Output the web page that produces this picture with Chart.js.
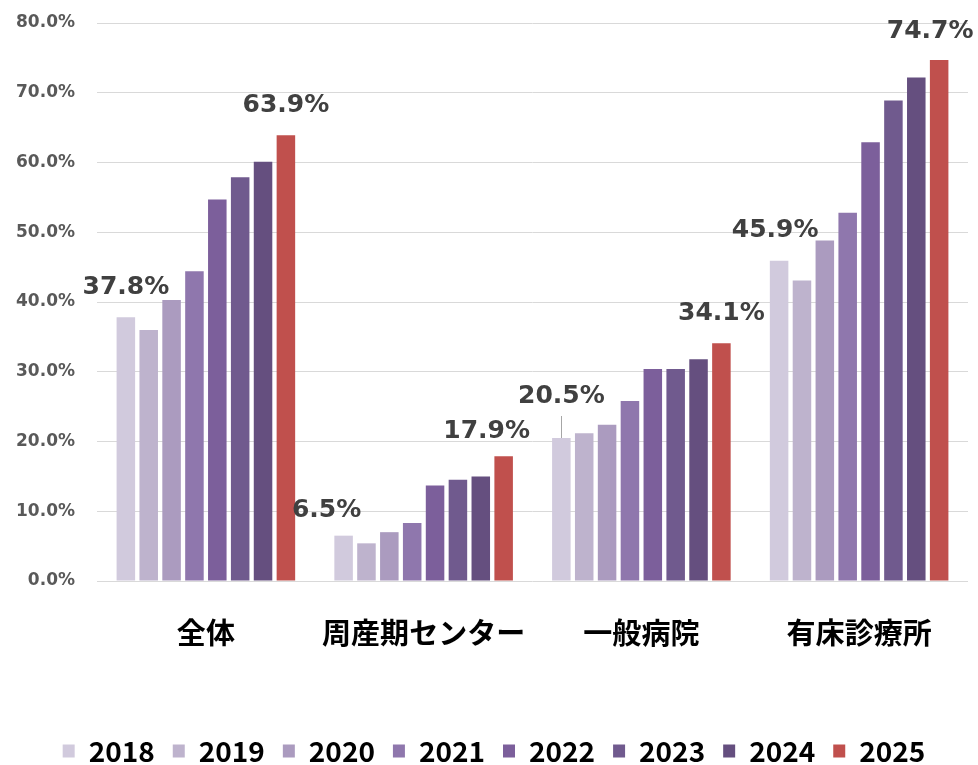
<!DOCTYPE html>
<html>
<head>
<meta charset="utf-8">
<script src="https://cdn.jsdelivr.net/npm/chart.js@4/dist/chart.umd.min.js"></script>
<style>
  html, body { margin: 0; padding: 0; background: #ffffff; }
  #wrap { width: 978px; height: 765px; }
</style>
</head>
<body>
<div id="wrap"><canvas id="c" width="978" height="765"></canvas></div>
<script>
// ---- data ----
const categories = ['全体', '周産期センター', '一般病院', '有床診療所'];
const years = ['2018', '2019', '2020', '2021', '2022', '2023', '2024', '2025'];
const v2018 = [37.8, 6.5, 20.5, 45.9];
const v2019 = [36.0, 5.4, 21.2, 43.1];
const v2020 = [40.3, 7.0, 22.4, 48.8];
const v2021 = [44.4, 8.3, 25.8, 52.8];
const v2022 = [54.7, 13.7, 30.4, 62.9];
const v2023 = [57.9, 14.5, 30.4, 68.9];
const v2024 = [60.1, 15.0, 31.8, 72.2];
const v2025 = [63.9, 17.9, 34.1, 74.7];
const yTicks = [0, 10, 20, 30, 40, 50, 60, 70, 80];
const labelledYears = ['2018', '2025'];

// ---- styles ----
const seriesValues = [v2018, v2019, v2020, v2021, v2022, v2023, v2024, v2025];
const colors = ['#D1CADD', '#BEB3CD', '#AB9BBF', '#8F77AD', '#7C5F9B', '#705A8E', '#654F7F', '#C0504D'];
const NUM_FONT = '"DejaVu Sans", "Noto Sans CJK JP", sans-serif';
const JP_FONT = '"Noto Sans CJK JP", "Noto Sans", sans-serif';

// per-label nudges (style only)
const nudges = {
  '0-1': { dx: -17, dy: 5 },
  '0-2': { dx: 0, dy: -12, leader: true },
  '0-3': { dx: -4, dy: 0 },
  '7-1': { dx: -17, dy: 5 },
  '7-3': { dx: -9, dy: 2 }
};

const labelPlugin = {
  id: 'barLabels',
  afterDatasetsDraw(chart) {
    const ctx = chart.ctx;
    ctx.save();
    ctx.font = 'bold 25px ' + NUM_FONT;
    ctx.fillStyle = '#404040';
    ctx.textAlign = 'center';
    ctx.textBaseline = 'middle';
    chart.data.datasets.forEach((ds, di) => {
      if (!labelledYears.includes(ds.label)) return;
      const meta = chart.getDatasetMeta(di);
      meta.data.forEach((bar, i) => {
        const key = (di === 0 ? '0' : '7') + '-' + i;
        const n = nudges[key] || { dx: 0, dy: 0 };
        const text = ds.data[i].toFixed(1) + '%';
        const x = bar.x + n.dx;
        const y = bar.y - 30 + n.dy;
        ctx.fillText(text, x, y);
        if (n.leader) {
          ctx.strokeStyle = '#A6A6A6';
          ctx.lineWidth = 1;
          ctx.beginPath();
          ctx.moveTo(Math.round(bar.x) + 0.5, y + 20);
          ctx.lineTo(Math.round(bar.x) + 0.5, bar.y);
          ctx.stroke();
        }
      });
    });
    ctx.restore();
  }
};

// shift the legend block slightly right (centred as in the reference)
const legendShift = {
  id: 'legendShift',
  afterLayout(chart) {
    if (chart.legend) {
      chart.legend.left += 10;
      chart.legend.right += 10;
    }
  }
};

new Chart(document.getElementById('c'), {
  type: 'bar',
  data: {
    labels: categories,
    datasets: years.map((y, i) => ({
      label: y,
      data: seriesValues[i],
      backgroundColor: colors[i],
      borderWidth: 0,
      categoryPercentage: 0.84,
      barPercentage: 0.81
    }))
  },
  options: {
    responsive: false,
    animation: false,
    devicePixelRatio: 1,
    layout: { padding: { left: 0, right: 10, top: 23, bottom: -10 } },
    plugins: {
      legend: {
        position: 'bottom',
        labels: {
          font: { family: JP_FONT, size: 28, weight: 'bold' },
          color: '#000000',
          boxWidth: 12,
          boxHeight: 13,
          padding: 18
        }
      },
      tooltip: { enabled: false }
    },
    scales: {
      x: {
        grid: { display: false, drawTicks: false },
        border: { display: false },
        ticks: {
          font: { family: JP_FONT, size: 29, weight: 'bold' },
          color: '#000000',
          padding: 35
        },
        afterFit(scale) { scale.height = 138; }
      },
      y: {
        min: 0,
        max: 80,
        afterBuildTicks(scale) { scale.ticks = yTicks.map(v => ({ value: v })); },
        grid: { color: '#D9D9D9', lineWidth: 1, drawTicks: true, tickLength: 22, tickColor: 'rgba(0,0,0,0)' },
        border: { display: false },
        ticks: {
          font: { family: NUM_FONT, size: 17, weight: 'bold' },
          color: '#595959',
          padding: 0,
          callback: v => Number(v).toFixed(1) + '%'
        },
        afterFit(scale) { scale.width = 97; }
      }
    }
  },
  plugins: [labelPlugin, legendShift]
});
</script>
</body>
</html>
